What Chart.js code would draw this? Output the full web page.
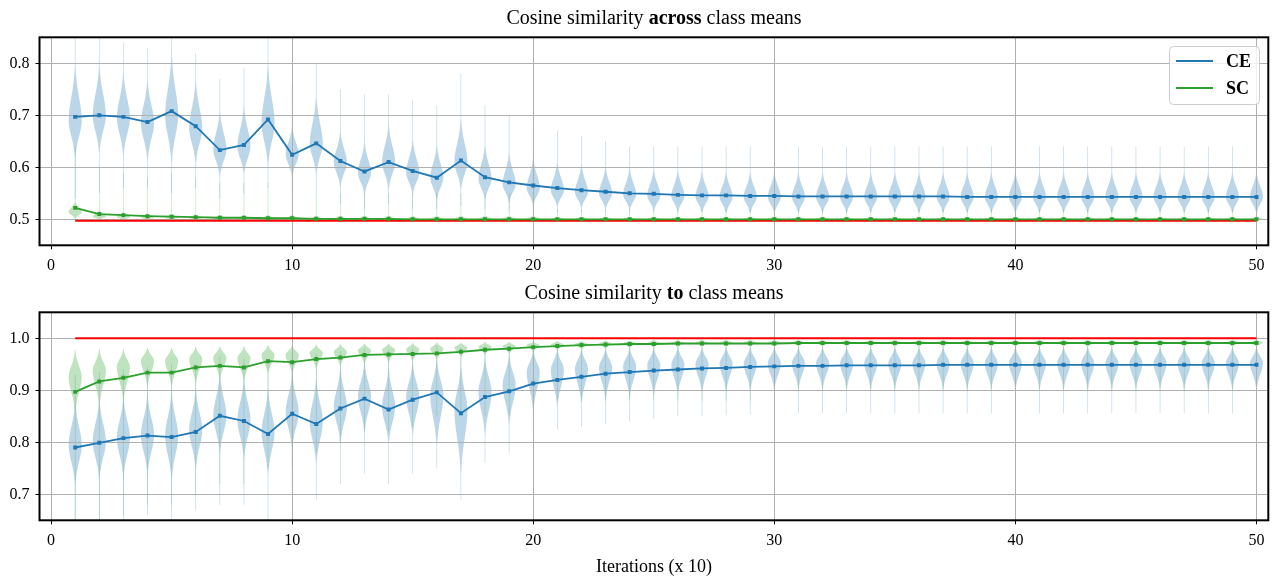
<!DOCTYPE html>
<html>
<head>
<meta charset="utf-8">
<script src="https://cdn.jsdelivr.net/npm/chart.js@4/dist/chart.umd.min.js"></script>
<style>
  body { margin: 0; background: #fff; width: 1278px; height: 582px; position: relative; overflow: hidden; font-family: 'Liberation Serif', serif; }
  canvas { position: absolute; left: 0; }
  .title { position: absolute; left: 39px; width: 1230px; text-align: center; font-size: 20px; line-height: 20px; color: #000; white-space: nowrap; }
  #xlabel { position: absolute; left: 39px; width: 1230px; text-align: center; font-size: 18px; line-height: 18px; top: 557px; color: #000; }
</style>
</head>
<body>
<canvas id="top" width="1278" height="290" style="top:0"></canvas>
<canvas id="bottom" width="1278" height="292" style="top:290px"></canvas>
<div class="title" style="top:6.5px">Cosine similarity <b>across</b> class means</div>
<div class="title" style="top:282px">Cosine similarity <b>to</b> class means</div>
<div id="xlabel">Iterations (x 10)</div>
<script>
'use strict';

// x positions (iterations, x 10)
var iterations = [1, 2, 3, 4, 5, 6, 7, 8, 9, 10, 11, 12, 13, 14, 15, 16, 17, 18, 19, 20,
  21, 22, 23, 24, 25, 26, 27, 28, 29, 30, 31, 32, 33, 34, 35, 36, 37, 38, 39, 40,
  41, 42, 43, 44, 45, 46, 47, 48, 49, 50];
var xTicks = [0, 10, 20, 30, 40, 50];
var yTicksTop = [0.5, 0.6, 0.7, 0.8];
var yTicksBottom = [0.7, 0.8, 0.9, 1.0];
var legendLabels = ['CE', 'SC'];

// --- across class means: line values ---
var acrossCE = [0.697, 0.700, 0.697, 0.687, 0.708, 0.679, 0.633, 0.643, 0.692, 0.624,
  0.646, 0.612, 0.592, 0.610, 0.593, 0.580, 0.613, 0.581, 0.571, 0.565,
  0.560, 0.556, 0.553, 0.550, 0.549, 0.547, 0.546, 0.546, 0.545, 0.545,
  0.544, 0.544, 0.544, 0.544, 0.544, 0.544, 0.544, 0.543, 0.543, 0.543,
  0.543, 0.543, 0.543, 0.543, 0.543, 0.543, 0.543, 0.543, 0.543, 0.543];
var acrossSC = [0.522, 0.510, 0.508, 0.506, 0.505, 0.504, 0.503, 0.503, 0.502, 0.502,
  0.501, 0.501, 0.501, 0.501, 0.500, 0.500, 0.500, 0.500, 0.500, 0.500,
  0.500, 0.500, 0.500, 0.500, 0.500, 0.500, 0.500, 0.500, 0.500, 0.500,
  0.500, 0.500, 0.500, 0.500, 0.500, 0.500, 0.500, 0.500, 0.500, 0.500,
  0.500, 0.500, 0.500, 0.500, 0.500, 0.500, 0.500, 0.500, 0.500, 0.500];
var acrossRef = 0.497;

// --- across class means: violin shapes (widest point, body ends, tail ends) ---
var acrossCEMode = [0.690, 0.700, 0.695, 0.685, 0.700, 0.675, 0.635, 0.640, 0.685, 0.625,
  0.645, 0.610, 0.590, 0.610, 0.590, 0.580, 0.610, 0.578, 0.568, 0.560,
  0.556, 0.552, 0.550, 0.548, 0.546, 0.545, 0.544, 0.543, 0.543, 0.543,
  0.543, 0.543, 0.543, 0.543, 0.543, 0.543, 0.543, 0.543, 0.543, 0.543,
  0.543, 0.543, 0.543, 0.543, 0.543, 0.543, 0.543, 0.543, 0.543, 0.543];
var acrossCEBodyLo = [0.615, 0.625, 0.620, 0.610, 0.605, 0.605, 0.580, 0.585, 0.600, 0.580,
  0.585, 0.560, 0.545, 0.555, 0.545, 0.535, 0.555, 0.535, 0.530, 0.525,
  0.522, 0.520, 0.518, 0.516, 0.514, 0.512, 0.511, 0.510, 0.510, 0.510,
  0.510, 0.510, 0.510, 0.510, 0.510, 0.510, 0.510, 0.510, 0.510, 0.510,
  0.510, 0.510, 0.510, 0.510, 0.510, 0.510, 0.510, 0.510, 0.510, 0.510];
var acrossCEBodyHi = [0.800, 0.800, 0.785, 0.770, 0.820, 0.770, 0.710, 0.720, 0.800, 0.680,
  0.740, 0.670, 0.650, 0.685, 0.655, 0.645, 0.695, 0.645, 0.630, 0.620,
  0.612, 0.607, 0.602, 0.600, 0.598, 0.596, 0.594, 0.593, 0.592, 0.592,
  0.592, 0.592, 0.592, 0.592, 0.592, 0.592, 0.592, 0.592, 0.592, 0.592,
  0.592, 0.592, 0.592, 0.592, 0.592, 0.592, 0.592, 0.592, 0.592, 0.592];
var acrossCETailLo = [0.540, 0.550, 0.560, 0.560, 0.550, 0.560, 0.540, 0.550, 0.560, 0.560,
  0.550, 0.530, 0.520, 0.530, 0.520, 0.520, 0.525, 0.520, 0.515, 0.513,
  0.513, 0.513, 0.513, 0.513, 0.513, 0.513, 0.513, 0.513, 0.513, 0.513,
  0.513, 0.513, 0.513, 0.513, 0.513, 0.513, 0.513, 0.513, 0.513, 0.513,
  0.513, 0.513, 0.513, 0.513, 0.513, 0.513, 0.513, 0.513, 0.513, 0.513];
var acrossCETailHi = [0.850, 0.850, 0.840, 0.830, 0.850, 0.820, 0.770, 0.790, 0.850, 0.760,
  0.800, 0.750, 0.740, 0.740, 0.730, 0.720, 0.780, 0.720, 0.700, 0.680,
  0.670, 0.660, 0.650, 0.640, 0.640, 0.640, 0.640, 0.640, 0.640, 0.640,
  0.640, 0.640, 0.640, 0.640, 0.640, 0.640, 0.640, 0.640, 0.640, 0.640,
  0.640, 0.640, 0.640, 0.640, 0.640, 0.640, 0.640, 0.640, 0.640, 0.640];

var acrossSCMode = [0.514, 0.505, 0.504, 0.503, 0.503, 0.502, 0.502, 0.502, 0.502, 0.502,
  0.501, 0.501, 0.501, 0.501, 0.501, 0.501, 0.501, 0.501, 0.501, 0.501,
  0.501, 0.501, 0.501, 0.501, 0.501, 0.501, 0.501, 0.501, 0.501, 0.501,
  0.501, 0.501, 0.501, 0.501, 0.501, 0.501, 0.501, 0.501, 0.501, 0.501,
  0.501, 0.501, 0.501, 0.501, 0.501, 0.501, 0.501, 0.501, 0.501, 0.501];
var acrossSCBodyLo = [0.500, 0.499, 0.499, 0.499, 0.499, 0.499, 0.499, 0.499, 0.499, 0.499,
  0.499, 0.499, 0.499, 0.499, 0.499, 0.499, 0.499, 0.499, 0.499, 0.499,
  0.499, 0.499, 0.499, 0.499, 0.499, 0.499, 0.499, 0.499, 0.499, 0.499,
  0.499, 0.499, 0.499, 0.499, 0.499, 0.499, 0.499, 0.499, 0.499, 0.499,
  0.499, 0.499, 0.499, 0.499, 0.499, 0.499, 0.499, 0.499, 0.499, 0.499];
var acrossSCBodyHi = [0.535, 0.518, 0.515, 0.512, 0.512, 0.510, 0.509, 0.509, 0.509, 0.509,
  0.507, 0.507, 0.507, 0.507, 0.507, 0.507, 0.507, 0.507, 0.507, 0.507,
  0.505, 0.505, 0.505, 0.505, 0.505, 0.505, 0.505, 0.505, 0.505, 0.505,
  0.505, 0.505, 0.505, 0.505, 0.505, 0.505, 0.505, 0.505, 0.505, 0.505,
  0.505, 0.505, 0.505, 0.505, 0.505, 0.505, 0.505, 0.505, 0.505, 0.505];
var acrossSCTailLo = [0.498, 0.499, 0.499, 0.499, 0.499, 0.499, 0.499, 0.499, 0.499, 0.499,
  0.499, 0.499, 0.499, 0.499, 0.499, 0.499, 0.499, 0.499, 0.499, 0.499,
  0.499, 0.499, 0.499, 0.499, 0.499, 0.499, 0.499, 0.499, 0.499, 0.499,
  0.499, 0.499, 0.499, 0.499, 0.499, 0.499, 0.499, 0.499, 0.499, 0.499,
  0.499, 0.499, 0.499, 0.499, 0.499, 0.499, 0.499, 0.499, 0.499, 0.499];
var acrossSCTailHi = [0.640, 0.600, 0.590, 0.580, 0.590, 0.580, 0.570, 0.570, 0.570, 0.560,
  0.550, 0.550, 0.550, 0.550, 0.550, 0.550, 0.550, 0.550, 0.550, 0.550,
  0.520, 0.520, 0.520, 0.520, 0.520, 0.520, 0.520, 0.520, 0.520, 0.520,
  0.520, 0.520, 0.520, 0.520, 0.520, 0.520, 0.520, 0.520, 0.520, 0.520,
  0.520, 0.520, 0.520, 0.520, 0.520, 0.520, 0.520, 0.520, 0.520, 0.520];

// --- to class means: line values ---
var toCE = [0.790, 0.799, 0.808, 0.813, 0.810, 0.820, 0.851, 0.841, 0.816, 0.855,
  0.835, 0.865, 0.884, 0.863, 0.882, 0.896, 0.856, 0.887, 0.898, 0.913,
  0.920, 0.926, 0.932, 0.935, 0.938, 0.940, 0.942, 0.943, 0.945, 0.946,
  0.947, 0.947, 0.948, 0.948, 0.948, 0.948, 0.949, 0.949, 0.949, 0.949,
  0.949, 0.949, 0.949, 0.949, 0.949, 0.949, 0.949, 0.949, 0.949, 0.949];
var toSC = [0.897, 0.917, 0.924, 0.934, 0.934, 0.944, 0.947, 0.944, 0.956, 0.954,
  0.960, 0.963, 0.968, 0.969, 0.970, 0.971, 0.974, 0.978, 0.980, 0.983,
  0.985, 0.987, 0.988, 0.989, 0.989, 0.990, 0.990, 0.990, 0.990, 0.990,
  0.991, 0.991, 0.991, 0.991, 0.991, 0.991, 0.991, 0.991, 0.991, 0.991,
  0.991, 0.991, 0.991, 0.991, 0.991, 0.991, 0.991, 0.991, 0.991, 0.991];
var toRef = 1.0;

// --- to class means: violin shapes ---
var toCEMode = [0.795, 0.802, 0.808, 0.814, 0.812, 0.824, 0.852, 0.843, 0.820, 0.858,
  0.840, 0.868, 0.888, 0.868, 0.887, 0.890, 0.862, 0.897, 0.910, 0.935,
  0.939, 0.942, 0.944, 0.946, 0.948, 0.949, 0.950, 0.951, 0.951, 0.952,
  0.952, 0.952, 0.952, 0.952, 0.952, 0.952, 0.952, 0.952, 0.952, 0.952,
  0.952, 0.952, 0.952, 0.952, 0.952, 0.952, 0.952, 0.952, 0.952, 0.952];
var toCEBodyLo = [0.715, 0.725, 0.730, 0.735, 0.725, 0.745, 0.775, 0.765, 0.735, 0.785,
  0.755, 0.795, 0.815, 0.795, 0.810, 0.790, 0.734, 0.810, 0.830, 0.857,
  0.865, 0.872, 0.878, 0.883, 0.887, 0.890, 0.893, 0.895, 0.897, 0.899,
  0.900, 0.900, 0.900, 0.900, 0.900, 0.900, 0.900, 0.900, 0.900, 0.900,
  0.900, 0.900, 0.900, 0.900, 0.900, 0.900, 0.900, 0.900, 0.900, 0.900];
var toCEBodyHi = [0.880, 0.885, 0.890, 0.895, 0.900, 0.905, 0.935, 0.925, 0.905, 0.935,
  0.925, 0.945, 0.955, 0.945, 0.955, 0.962, 0.950, 0.965, 0.970, 0.978,
  0.980, 0.981, 0.982, 0.983, 0.983, 0.984, 0.984, 0.984, 0.984, 0.984,
  0.984, 0.984, 0.984, 0.984, 0.984, 0.984, 0.984, 0.984, 0.984, 0.984,
  0.984, 0.984, 0.984, 0.984, 0.984, 0.984, 0.984, 0.984, 0.984, 0.984];
var toCETailLo = [0.650, 0.650, 0.650, 0.660, 0.650, 0.670, 0.680, 0.680, 0.650, 0.700,
  0.690, 0.720, 0.740, 0.720, 0.740, 0.750, 0.690, 0.760, 0.780, 0.820,
  0.825, 0.830, 0.835, 0.840, 0.845, 0.850, 0.850, 0.852, 0.854, 0.855,
  0.856, 0.856, 0.856, 0.856, 0.856, 0.856, 0.856, 0.856, 0.856, 0.856,
  0.856, 0.856, 0.856, 0.856, 0.856, 0.856, 0.856, 0.856, 0.856, 0.856];
var toCETailHi = [0.930, 0.935, 0.940, 0.945, 0.950, 0.950, 0.965, 0.960, 0.960, 0.970,
  0.970, 0.975, 0.980, 0.978, 0.980, 0.985, 0.983, 0.985, 0.985, 0.985,
  0.985, 0.985, 0.985, 0.985, 0.985, 0.985, 0.985, 0.985, 0.985, 0.985,
  0.985, 0.985, 0.985, 0.985, 0.985, 0.985, 0.985, 0.985, 0.985, 0.985,
  0.985, 0.985, 0.985, 0.985, 0.985, 0.985, 0.985, 0.985, 0.985, 0.985];

var toSCMode = [0.925, 0.938, 0.945, 0.957, 0.957, 0.960, 0.963, 0.962, 0.968, 0.968,
  0.972, 0.974, 0.977, 0.978, 0.979, 0.980, 0.982, 0.984, 0.985, 0.987,
  0.988, 0.989, 0.990, 0.991, 0.991, 0.991, 0.992, 0.992, 0.992, 0.992,
  0.992, 0.992, 0.992, 0.992, 0.992, 0.992, 0.992, 0.992, 0.992, 0.992,
  0.992, 0.992, 0.992, 0.992, 0.992, 0.992, 0.992, 0.992, 0.992, 0.992];
var toSCBodyLo = [0.855, 0.868, 0.875, 0.905, 0.905, 0.912, 0.918, 0.915, 0.930, 0.930,
  0.940, 0.945, 0.950, 0.952, 0.955, 0.958, 0.963, 0.967, 0.970, 0.973,
  0.976, 0.978, 0.980, 0.981, 0.982, 0.983, 0.984, 0.984, 0.984, 0.984,
  0.984, 0.984, 0.984, 0.984, 0.984, 0.984, 0.984, 0.984, 0.984, 0.984,
  0.984, 0.984, 0.984, 0.984, 0.984, 0.984, 0.984, 0.984, 0.984, 0.984];
var toSCBodyHi = [0.978, 0.980, 0.980, 0.982, 0.982, 0.984, 0.985, 0.985, 0.987, 0.987,
  0.988, 0.989, 0.990, 0.990, 0.991, 0.992, 0.992, 0.993, 0.993, 0.994,
  0.995, 0.995, 0.996, 0.996, 0.997, 0.997, 0.997, 0.997, 0.997, 0.997,
  0.997, 0.997, 0.997, 0.997, 0.997, 0.997, 0.997, 0.997, 0.997, 0.997,
  0.997, 0.997, 0.997, 0.997, 0.997, 0.997, 0.997, 0.997, 0.997, 0.997];
var toSCTailLo = [0.650, 0.650, 0.660, 0.680, 0.680, 0.700, 0.720, 0.720, 0.750, 0.750,
  0.780, 0.800, 0.820, 0.820, 0.830, 0.850, 0.850, 0.850, 0.850, 0.880,
  0.880, 0.880, 0.880, 0.880, 0.880, 0.880, 0.880, 0.880, 0.880, 0.880,
  0.900, 0.900, 0.900, 0.900, 0.900, 0.900, 0.900, 0.900, 0.900, 0.900,
  0.900, 0.900, 0.900, 0.900, 0.900, 0.900, 0.900, 0.900, 0.900, 0.900];
var toSCTailHi = [0.978, 0.980, 0.980, 0.982, 0.982, 0.984, 0.985, 0.985, 0.987, 0.987,
  0.988, 0.989, 0.990, 0.990, 0.991, 0.992, 0.992, 0.993, 0.993, 0.994,
  0.995, 0.995, 0.996, 0.996, 0.997, 0.998, 0.998, 0.998, 0.998, 0.998,
  0.998, 0.998, 0.998, 0.998, 0.998, 0.998, 0.998, 0.998, 0.998, 0.998,
  0.998, 0.998, 0.998, 0.998, 0.998, 0.998, 0.998, 0.998, 0.998, 0.998];

var blue = '#1f77b4';
var green = '#2ca02c';
var red = '#ff0000';
var blueFill = 'rgba(31,119,180,0.3)';
var greenFill = 'rgba(44,160,44,0.3)';
var violinHalf = 0.27;

Chart.defaults.font.family = "'Liberation Serif', serif";
Chart.defaults.font.size = 16;
Chart.defaults.color = '#000';

function points(values) {
  return iterations.map(function(x, i) {
    return { x: x, y: values[i] };
  });
}

function flat(value) {
  return [{ x: iterations[0], y: value }, { x: iterations[iterations.length - 1], y: value }];
}

// one violin body: bell profile around the widest point, thin tails, cut at the tail ends
function drawViolin(ctx, xs, ys, x, mode, bodyLo, bodyHi, tailLo, tailHi) {
  var cx = xs.getPixelForValue(x);
  var half = xs.getPixelForValue(x + violinHalf) - cx;
  var sLo = (mode - bodyLo) / 2.5;
  var sHi = (bodyHi - mode) / 2.5;
  var n = 240;
  var side = [];
  for (var i = 0; i <= n; i++) {
    var v = tailLo + (tailHi - tailLo) * i / n;
    var d = v - mode;
    var u = d / (d < 0 ? sLo : sHi);
    side.push([ys.getPixelForValue(v), Math.max(half * Math.exp(-0.5 * u * u), 0.33)]);
  }
  ctx.beginPath();
  ctx.moveTo(cx + side[0][1], side[0][0]);
  for (i = 1; i <= n; i++) ctx.lineTo(cx + side[i][1], side[i][0]);
  for (i = n; i >= 0; i--) ctx.lineTo(cx - side[i][1], side[i][0]);
  ctx.closePath();
  ctx.fill();
}

function violinPlugin(sets) {
  return {
    id: 'violins',
    beforeDraw: function(chart) {
      var ctx = chart.ctx;
      var area = chart.chartArea;
      var xs = chart.scales.x;
      var ys = chart.scales.y;
      ctx.save();
      ctx.beginPath();
      ctx.rect(area.left, area.top, area.right - area.left, area.bottom - area.top);
      ctx.clip();
      sets.forEach(function(s) {
        ctx.fillStyle = s.color;
        iterations.forEach(function(x, i) {
          drawViolin(ctx, xs, ys, x, s.mode[i], s.bodyLo[i], s.bodyHi[i], s.tailLo[i], s.tailHi[i]);
        });
      });
      ctx.restore();
    }
  };
}

var framePlugin = {
  id: 'frame',
  afterDraw: function(chart) {
    var a = chart.chartArea;
    var ctx = chart.ctx;
    ctx.save();
    ctx.strokeStyle = '#000';
    ctx.lineWidth = 2;
    ctx.strokeRect(a.left, a.top, a.right - a.left, a.bottom - a.top);
    ctx.restore();
  }
};

var legendPlugin = {
  id: 'boxLegend',
  afterDraw: function(chart) {
    var ctx = chart.ctx;
    var x = 1169.5, y = 46.5, w = 90, h = 58;
    var colors = [blue, green];
    ctx.save();
    ctx.beginPath();
    ctx.roundRect(x, y, w, h, 4);
    ctx.fillStyle = 'rgba(255,255,255,0.8)';
    ctx.fill();
    ctx.strokeStyle = '#cccccc';
    ctx.lineWidth = 1;
    ctx.stroke();
    ctx.font = "bold 18px 'Liberation Serif', serif";
    ctx.textBaseline = 'middle';
    legendLabels.forEach(function(label, i) {
      var ly = 61 + i * 27;
      ctx.strokeStyle = colors[i];
      ctx.lineWidth = 1.8;
      ctx.beginPath();
      ctx.moveTo(1176, ly);
      ctx.lineTo(1213, ly);
      ctx.stroke();
      ctx.fillStyle = '#000';
      ctx.fillText(label, 1226, ly + 1);
    });
    ctx.restore();
  }
};

function lineSet(label, values, color) {
  return {
    label: label,
    data: points(values),
    borderColor: color,
    backgroundColor: color,
    borderWidth: 1.8,
    pointStyle: 'rect',
    pointRadius: 2.8,
    pointBorderWidth: 0,
    pointBackgroundColor: color,
    tension: 0
  };
}

function refSet(value) {
  return {
    label: 'ref',
    data: flat(value),
    borderColor: red,
    borderWidth: 2,
    pointRadius: 0
  };
}

function makeChart(id, cfg) {
  return new Chart(document.getElementById(id), {
    type: 'line',
    data: {
      datasets: [
        lineSet('CE', cfg.ce, blue),
        lineSet('SC', cfg.sc, green),
        refSet(cfg.ref)
      ]
    },
    options: {
      responsive: false,
      animation: false,
      devicePixelRatio: 1,
      layout: { padding: { top: cfg.padTop, right: 9.7, bottom: 0, left: 0 } },
      plugins: { legend: { display: false }, tooltip: { enabled: false } },
      scales: {
        x: {
          type: 'linear',
          min: -0.48,
          max: 50.49,
          afterBuildTicks: function(s) {
            s.ticks = xTicks.map(function(v) { return { value: v }; });
          },
          afterFit: function(s) { s.height = cfg.xHeight; },
          ticks: { padding: 7, maxRotation: 0 },
          grid: { color: '#b0b0b0', lineWidth: 1, tickColor: '#000', tickLength: 4 },
          border: { display: false }
        },
        y: {
          min: cfg.yMin,
          max: cfg.yMax,
          afterBuildTicks: function(s) {
            s.ticks = cfg.yTicks.map(function(v) { return { value: v }; });
          },
          afterFit: function(s) { s.width = 39.5; },
          ticks: {
            padding: 6,
            callback: function(v) { return Number(v).toFixed(1); }
          },
          grid: { color: '#b0b0b0', lineWidth: 1, tickColor: '#000', tickLength: 4 },
          border: { display: false }
        }
      }
    },
    plugins: cfg.plugins
  });
}

makeChart('top', {
  ce: acrossCE, sc: acrossSC, ref: acrossRef,
  yMin: 0.45, yMax: 0.85, yTicks: yTicksTop,
  padTop: 37.3, xHeight: 44.7,
  plugins: [
    violinPlugin([
      { color: blueFill, mode: acrossCEMode, bodyLo: acrossCEBodyLo, bodyHi: acrossCEBodyHi, tailLo: acrossCETailLo, tailHi: acrossCETailHi },
      { color: greenFill, mode: acrossSCMode, bodyLo: acrossSCBodyLo, bodyHi: acrossSCBodyHi, tailLo: acrossSCTailLo, tailHi: acrossSCTailHi }
    ]),
    framePlugin,
    legendPlugin
  ]
});

makeChart('bottom', {
  ce: toCE, sc: toSC, ref: toRef,
  yMin: 0.65, yMax: 1.05, yTicks: yTicksBottom,
  padTop: 22.3, xHeight: 61.7,
  plugins: [
    violinPlugin([
      { color: blueFill, mode: toCEMode, bodyLo: toCEBodyLo, bodyHi: toCEBodyHi, tailLo: toCETailLo, tailHi: toCETailHi },
      { color: greenFill, mode: toSCMode, bodyLo: toSCBodyLo, bodyHi: toSCBodyHi, tailLo: toSCTailLo, tailHi: toSCTailHi }
    ]),
    framePlugin
  ]
});
</script>
</body>
</html>
